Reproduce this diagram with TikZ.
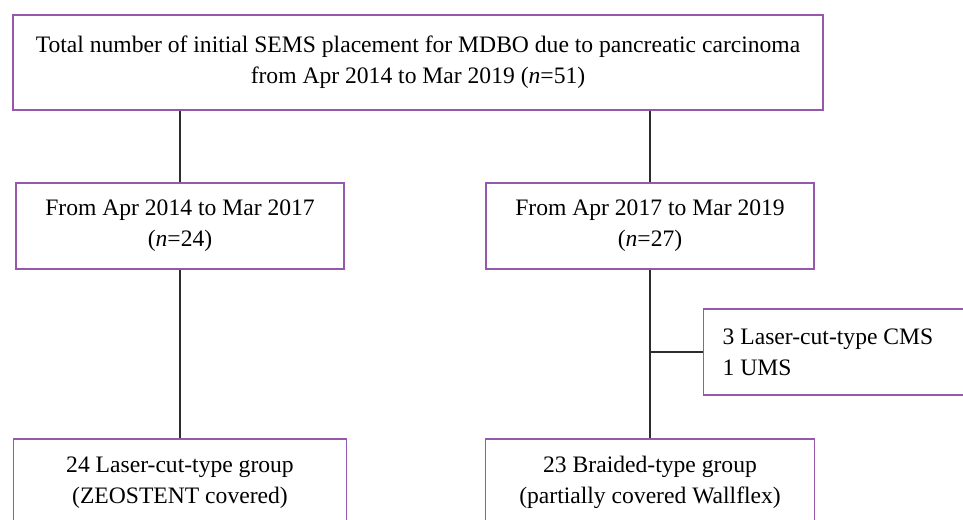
\documentclass[tikz,border=0pt]{standalone}
\usepackage{fontspec}
\setmainfont{Liberation Serif}
\usepackage{tikz}
\usetikzlibrary{positioning}
\definecolor{boxpurple}{RGB}{150,88,172}
\definecolor{linegray}{RGB}{45,45,45}

\begin{document}
\begin{tikzpicture}[x=1pt,y=-1pt,font=\fontsize{23.6}{31}\selectfont]
\tikzstyle{box} = [rectangle, draw=boxpurple, line width=1.4pt, align=center, minimum height=86pt, inner sep=0pt]
\tikzstyle{link} = [draw=linegray, line width=1.1pt]
\path[use as bounding box, clip] (0,0) rectangle (963,519);
\node[box, minimum width=810pt, minimum height=95pt] (total) at (418,62.5){Total number of initial SEMS placement for MDBO due to pancreatic carcinoma\\from Apr 2014 to Mar 2019 (\textit{n}=51)};
\node[box, minimum width=328pt] (early) at (180,226){From Apr 2014 to Mar 2017\\(\textit{n}=24)};
\node[box, minimum width=328pt] (late) at (650,226){From Apr 2017 to Mar 2019\\(\textit{n}=27)};
\node[box, anchor=west, align=flush left, text width=260pt, inner xsep=19pt] (excl) at (703,352){3 Laser-cut-type CMS\\1 UMS};
\node[box, minimum width=333pt, minimum height=87pt] (laser) at (180,482.5){24 Laser-cut-type group\\(ZEOSTENT covered)};
\node[box, minimum width=329pt, minimum height=87pt] (braided) at (650,482.5){23 Braided-type group\\(partially covered Wallflex)};
\coordinate (split) at (late.south |- excl.west);
\path[link] (total.south -| early.north) -- (early.north)
            (total.south -| late.north) -- (late.north)
            (early) -- (laser)
            (late) -- (braided)
            (split) -- (excl.west);
\end{tikzpicture}
\end{document}
